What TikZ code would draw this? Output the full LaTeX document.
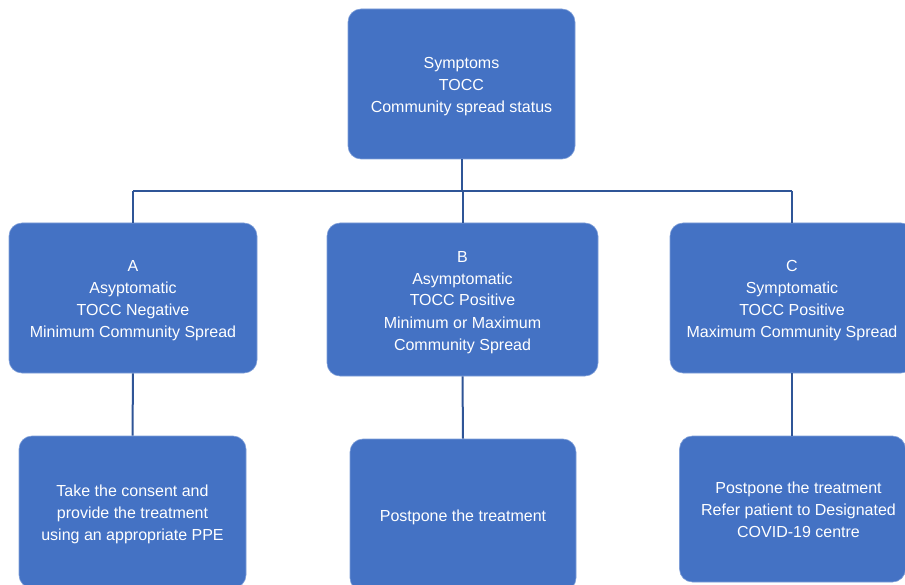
\documentclass[tikz,border=0pt]{standalone}
\usepackage{fontspec}
\setmainfont{Liberation Sans}
\definecolor{boxblue}{HTML}{4472C4}
\definecolor{boxedge}{HTML}{7E9ED8}
\definecolor{linkblue}{HTML}{2F5597}
\newcommand\topln{\rule{0pt}{17pt}}
\newcommand\botln{\rule[-4pt]{0pt}{4pt}}
\newcommand\shr{\hspace*{12pt}}
\begin{document}
\begin{tikzpicture}[x=1pt,y=-1pt,
  box/.style={draw=boxedge,line width=0.6pt,fill=boxblue,rounded corners=13pt,
    text=white,align=center,inner sep=0pt,
    font=\fontsize{16pt}{22pt}\selectfont},
  link/.style={draw=linkblue,line width=2pt}]
\useasboundingbox (0,0) rectangle (905,585);
\clip (0,0) rectangle (905,585);
\node[box,minimum width=227pt,minimum height=150pt] (top) at (461.5,84) {\topln Symptoms\\TOCC\\Community spread status\botln};
\node[box,minimum width=248pt,minimum height=150pt] (A) at (133,298) {\topln A\\Asyptomatic\\TOCC Negative\\Minimum Community Spread\botln};
\node[box,minimum width=271pt,minimum height=153pt] (B) at (462.5,299.5) {\topln B\\Asymptomatic\\TOCC Positive\\Minimum or Maximum\\Community Spread\botln};
\node[box,minimum width=244pt,minimum height=150pt] (C) at (792,298) {\topln C\\Symptomatic\\TOCC Positive\\Maximum Community Spread\botln};
\node[box,minimum width=227pt,minimum height=152pt] (A2) at (132.5,512) {\topln Take the consent and\\provide the treatment\\using an appropriate PPE\botln};
\node[box,minimum width=226pt,minimum height=152pt] (B2) at (463,515) {\topln Postpone the treatment\botln};
\node[box,minimum width=226pt,minimum height=146pt] (C2) at (792.5,509) {\shr\topln Postpone the treatment\\\shr Refer patient to Designated\\\shr COVID-19 centre\botln};
\coordinate (hl) at (133,191);
\coordinate (hm) at (463,191);
\coordinate (hr) at (792,191);
\draw[link] (top.south) -- (top.south |- hm);
\draw[link] (hl) -- (hr);
\draw[link] (hl) -- (hl |- A.north);
\draw[link] (hm) -- (hm |- B.north);
\draw[link] (hr) -- (hr |- C.north);
\draw[link] (A.south) -- (A2.north);
\draw[link] (B.south) -- (B2.north);
\draw[link] (hr |- C.south) -- (hr |- C2.north);
\end{tikzpicture}
\end{document}
